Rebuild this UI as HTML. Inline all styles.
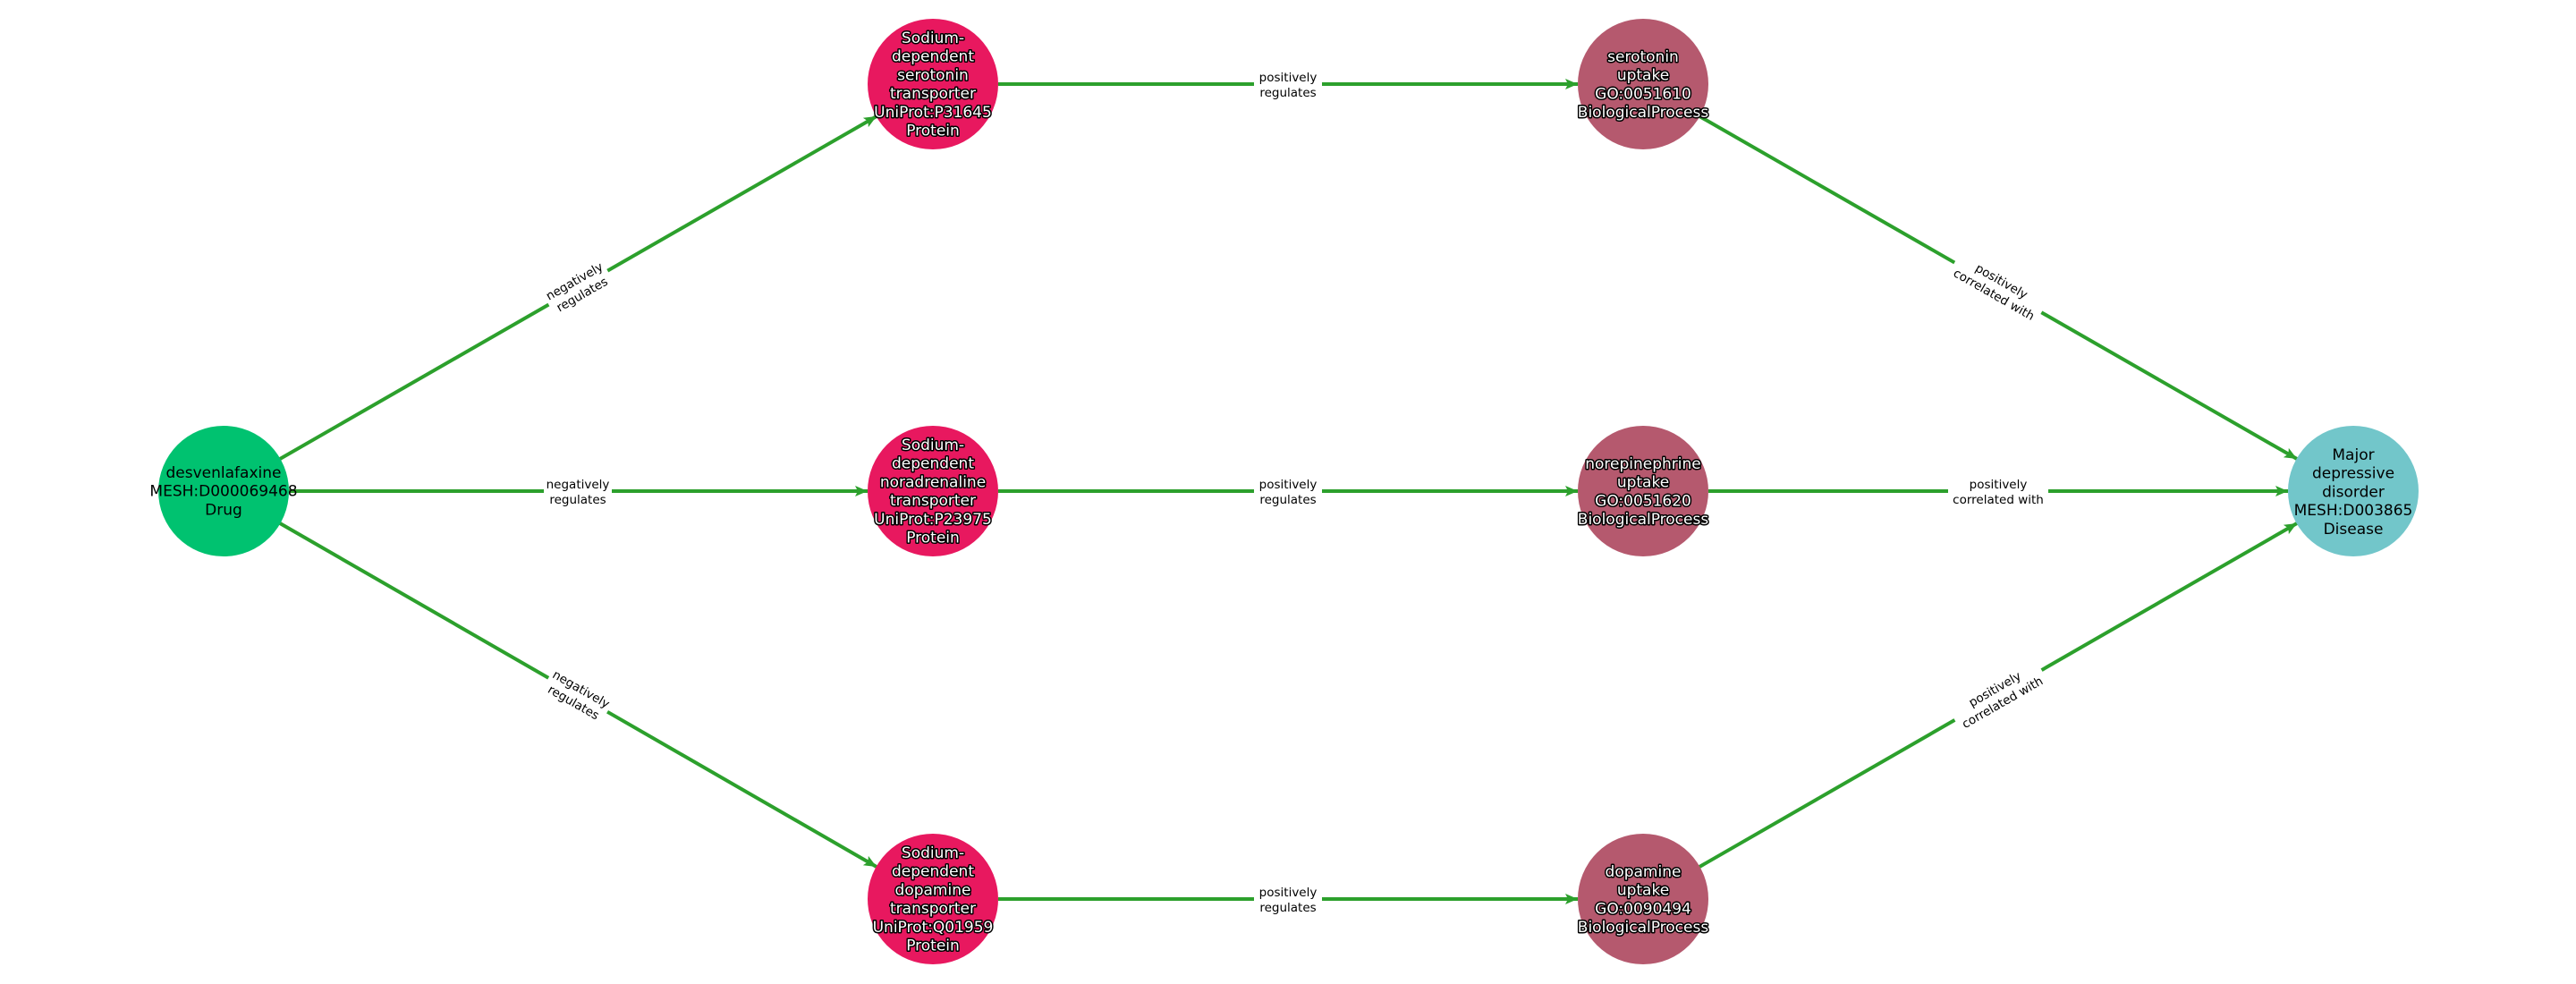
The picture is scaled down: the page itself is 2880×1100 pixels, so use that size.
<!DOCTYPE html>
<html><head><meta charset="utf-8"><style>
html,body{margin:0;padding:0;background:#fff;}
svg{display:block;}
.n{font-family:"DejaVu Sans","Liberation Sans",sans-serif;font-size:17px;text-anchor:middle;}
.w{fill:#fff;stroke:#000;stroke-width:3px;paint-order:stroke;stroke-linejoin:round;}
.b{fill:#000;}
.e{font-family:"DejaVu Sans","Liberation Sans",sans-serif;font-size:13.5px;text-anchor:middle;fill:#000;}
.l{stroke:#2ca02c;stroke-width:4;fill:none;}
</style></head><body>
<svg width="2880" height="1100" viewBox="0 0 2880 1100" xmlns="http://www.w3.org/2000/svg">
<defs>
<marker id="a" markerUnits="userSpaceOnUse" markerWidth="16" markerHeight="14" refX="14" refY="7" orient="auto">
<path d="M0,1 L14,7 L0,13 L3,7 Z" fill="#2ca02c"/>
</marker>
</defs>
<line class="l" x1="313" y1="513" x2="980" y2="130" marker-end="url(#a)"/>
<line class="l" x1="323" y1="549" x2="970" y2="549" marker-end="url(#a)"/>
<line class="l" x1="313" y1="585" x2="980" y2="969" marker-end="url(#a)"/>
<line class="l" x1="1116" y1="94" x2="1764" y2="94" marker-end="url(#a)"/>
<line class="l" x1="1116" y1="549" x2="1764" y2="549" marker-end="url(#a)"/>
<line class="l" x1="1116" y1="1005" x2="1764" y2="1005" marker-end="url(#a)"/>
<line class="l" x1="1900" y1="130" x2="2568" y2="513" marker-end="url(#a)"/>
<line class="l" x1="1910" y1="549" x2="2558" y2="549" marker-end="url(#a)"/>
<line class="l" x1="1900" y1="969" x2="2568" y2="585" marker-end="url(#a)"/>
<g transform="translate(646,321) rotate(-29.85)"><rect x="-38" y="-19" width="76" height="38" fill="#fff"/><text class="e" y="-3">negatively</text><text class="e" y="14">regulates</text></g>
<g transform="translate(646,549)"><rect x="-38" y="-19" width="76" height="38" fill="#fff"/><text class="e" y="-3">negatively</text><text class="e" y="14">regulates</text></g>
<g transform="translate(646,777) rotate(29.85)"><rect x="-38" y="-19" width="76" height="38" fill="#fff"/><text class="e" y="-3">negatively</text><text class="e" y="14">regulates</text></g>
<g transform="translate(1440,94)"><rect x="-38" y="-19" width="76" height="38" fill="#fff"/><text class="e" y="-3">positively</text><text class="e" y="14">regulates</text></g>
<g transform="translate(1440,549)"><rect x="-38" y="-19" width="76" height="38" fill="#fff"/><text class="e" y="-3">positively</text><text class="e" y="14">regulates</text></g>
<g transform="translate(1440,1005)"><rect x="-38" y="-19" width="76" height="38" fill="#fff"/><text class="e" y="-3">positively</text><text class="e" y="14">regulates</text></g>
<g transform="translate(2234,321) rotate(29.85)"><rect x="-56" y="-19" width="112" height="38" fill="#fff"/><text class="e" y="-3">positively</text><text class="e" y="14">correlated with</text></g>
<g transform="translate(2234,549)"><rect x="-56" y="-19" width="112" height="38" fill="#fff"/><text class="e" y="-3">positively</text><text class="e" y="14">correlated with</text></g>
<g transform="translate(2234,777) rotate(-29.85)"><rect x="-56" y="-19" width="112" height="38" fill="#fff"/><text class="e" y="-3">positively</text><text class="e" y="14">correlated with</text></g>
<circle cx="250" cy="549" r="73" fill="#00c270"/>
<text class="n b"><tspan x="250" y="534">desvenlafaxine</tspan><tspan x="250" dy="20.7">MESH:D000069468</tspan><tspan x="250" dy="20.7">Drug</tspan></text>
<circle cx="1043" cy="94" r="73" fill="#e8185f"/>
<text class="n w"><tspan x="1043" y="48">Sodium-</tspan><tspan x="1043" dy="20.7">dependent</tspan><tspan x="1043" dy="20.7">serotonin</tspan><tspan x="1043" dy="20.7">transporter</tspan><tspan x="1043" dy="20.7">UniProt:P31645</tspan><tspan x="1043" dy="20.7">Protein</tspan></text>
<circle cx="1043" cy="549" r="73" fill="#e8185f"/>
<text class="n w"><tspan x="1043" y="503">Sodium-</tspan><tspan x="1043" dy="20.7">dependent</tspan><tspan x="1043" dy="20.7">noradrenaline</tspan><tspan x="1043" dy="20.7">transporter</tspan><tspan x="1043" dy="20.7">UniProt:P23975</tspan><tspan x="1043" dy="20.7">Protein</tspan></text>
<circle cx="1043" cy="1005" r="73" fill="#e8185f"/>
<text class="n w"><tspan x="1043" y="959">Sodium-</tspan><tspan x="1043" dy="20.7">dependent</tspan><tspan x="1043" dy="20.7">dopamine</tspan><tspan x="1043" dy="20.7">transporter</tspan><tspan x="1043" dy="20.7">UniProt:Q01959</tspan><tspan x="1043" dy="20.7">Protein</tspan></text>
<circle cx="1837" cy="94" r="73" fill="#b5596e"/>
<text class="n w"><tspan x="1837" y="69">serotonin</tspan><tspan x="1837" dy="20.7">uptake</tspan><tspan x="1837" dy="20.7">GO:0051610</tspan><tspan x="1837" dy="20.7">BiologicalProcess</tspan></text>
<circle cx="1837" cy="549" r="73" fill="#b5596e"/>
<text class="n w"><tspan x="1837" y="524">norepinephrine</tspan><tspan x="1837" dy="20.7">uptake</tspan><tspan x="1837" dy="20.7">GO:0051620</tspan><tspan x="1837" dy="20.7">BiologicalProcess</tspan></text>
<circle cx="1837" cy="1005" r="73" fill="#b5596e"/>
<text class="n w"><tspan x="1837" y="980">dopamine</tspan><tspan x="1837" dy="20.7">uptake</tspan><tspan x="1837" dy="20.7">GO:0090494</tspan><tspan x="1837" dy="20.7">BiologicalProcess</tspan></text>
<circle cx="2631" cy="549" r="73" fill="#72c6ca"/>
<text class="n b"><tspan x="2631" y="514">Major</tspan><tspan x="2631" dy="20.7">depressive</tspan><tspan x="2631" dy="20.7">disorder</tspan><tspan x="2631" dy="20.7">MESH:D003865</tspan><tspan x="2631" dy="20.7">Disease</tspan></text>
</svg>
</body></html>
